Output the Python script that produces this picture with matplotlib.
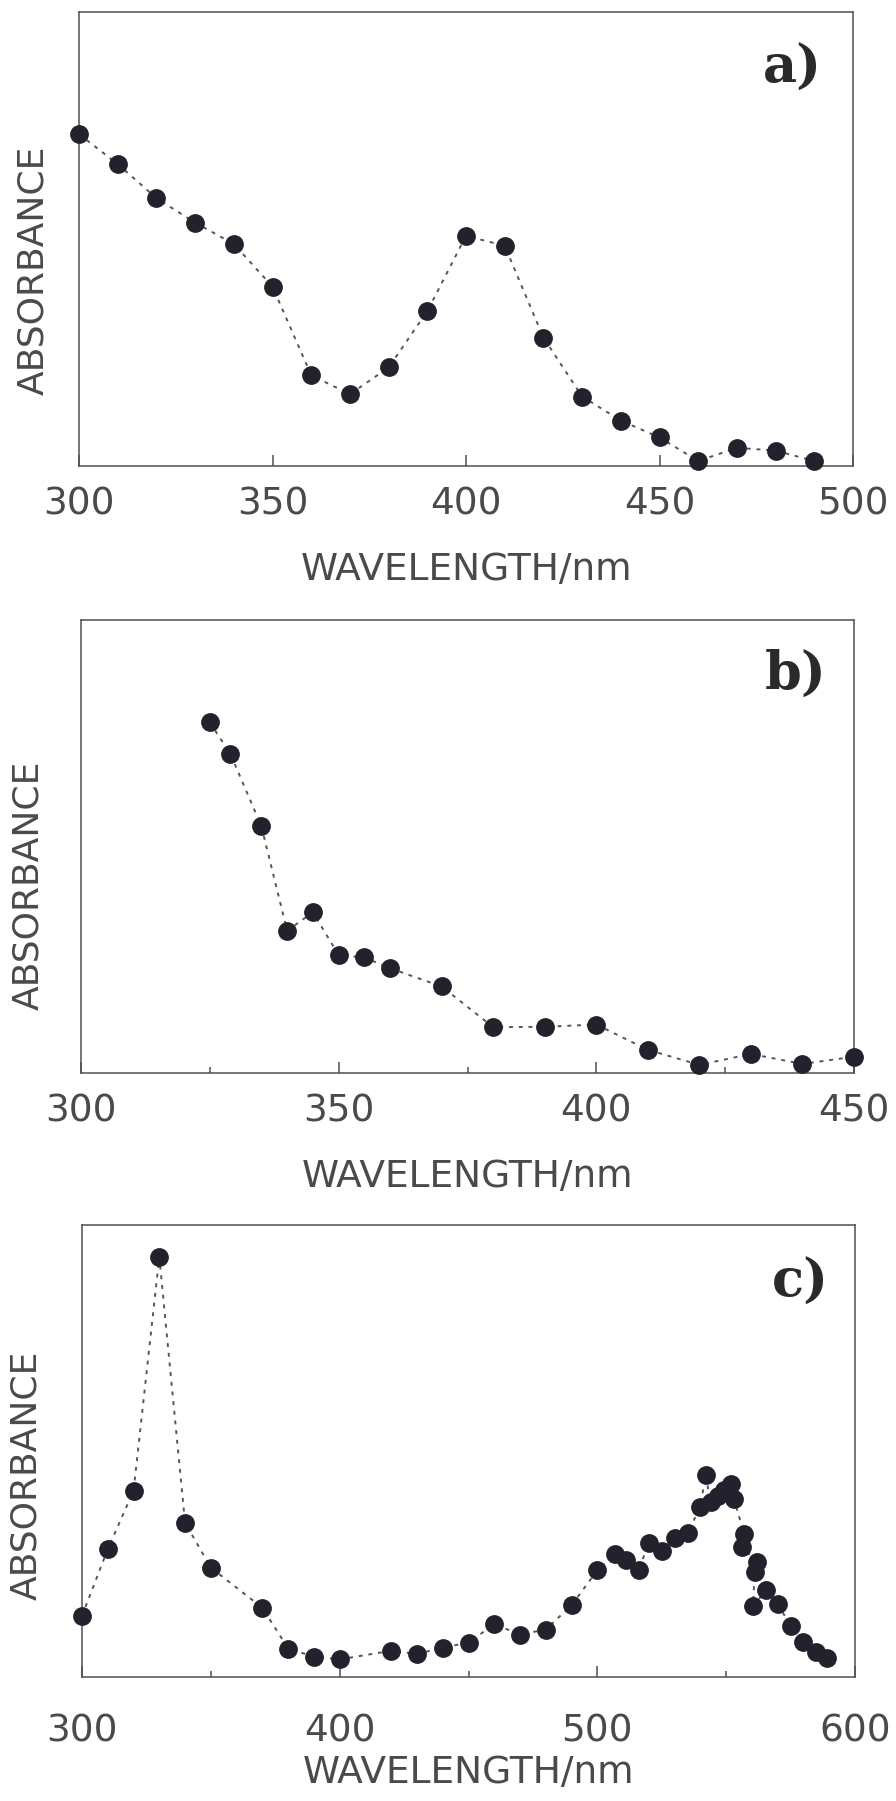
import matplotlib.pyplot as plt
from matplotlib.ticker import MultipleLocator

# panel a
wl_a = [300, 310, 320, 330, 340, 350, 360, 370, 380, 390,
        400, 410, 420, 430, 440, 450, 460, 470, 480, 490]
abs_a = [0.731, 0.665, 0.590, 0.536, 0.489, 0.395, 0.200, 0.158, 0.217, 0.341,
         0.507, 0.485, 0.283, 0.153, 0.100, 0.063, 0.011, 0.040, 0.034, 0.011]

# panel b
wl_b = [325, 329, 335, 340, 345, 350, 355, 360, 370, 380,
        390, 400, 410, 420, 430, 440, 450]
abs_b = [0.774, 0.704, 0.545, 0.314, 0.355, 0.260, 0.255, 0.231, 0.191, 0.101,
         0.102, 0.107, 0.051, 0.018, 0.042, 0.020, 0.036]

# panel c
wl_c = [300, 310, 320, 330, 340, 350, 370, 380, 390, 400,
        420, 430, 440, 450, 460, 470, 480, 490, 500, 507,
        511, 516, 520, 525, 530, 535, 540, 542, 544, 547,
        549, 552, 553, 557, 556, 562, 561, 560.5, 565.5, 570,
        575, 580, 585, 589]
abs_c = [0.135, 0.283, 0.412, 0.929, 0.341, 0.242, 0.153, 0.063, 0.045, 0.039,
         0.058, 0.051, 0.065, 0.076, 0.117, 0.094, 0.105, 0.159, 0.236, 0.272,
         0.259, 0.237, 0.296, 0.279, 0.308, 0.319, 0.376, 0.447, 0.387, 0.400,
         0.414, 0.427, 0.394, 0.316, 0.288, 0.254, 0.233, 0.157, 0.192, 0.162,
         0.113, 0.077, 0.055, 0.042]

W, H = 896, 1801
txt = '#4a4a4a'
spine = '#505050'

fig = plt.figure(figsize=(W / 100, H / 100), dpi=100)


def px_axes(left, top, right, bottom):
    return fig.add_axes([left / W, 1 - bottom / H, (right - left) / W, (bottom - top) / H])


def style(ax, x, y, xlim, major, minor, tag, tagpos, ylab_pos, xlab_y, pad):
    ax.plot(x, y, linestyle=(0, (2, 3)), color='#555555', lw=1.4,
            marker='o', markersize=12.5, markerfacecolor='#23212c',
            markeredgecolor='#23212c', clip_on=False, zorder=3)
    ax.set_xlim(*xlim)
    ax.set_ylim(0, 1)
    ax.set_yticks([])
    ax.xaxis.set_major_locator(MultipleLocator(major))
    if minor:
        ax.xaxis.set_minor_locator(MultipleLocator(minor))
    ax.tick_params(axis='x', which='major', direction='in', length=8, width=1.1,
                   color=spine, labelsize=27, labelcolor=txt, pad=pad)
    ax.tick_params(axis='x', which='minor', direction='in', length=4.5, width=1.1,
                   color=spine)
    for s in ax.spines.values():
        s.set_color(spine)
        s.set_linewidth(1.1)
    ax.set_ylabel('ABSORBANCE', fontsize=26, color=txt)
    ax.yaxis.set_label_coords(*ylab_pos)
    ax.yaxis.label.set_verticalalignment('center')
    ax.set_xlabel('WAVELENGTH/nm', fontsize=27, color=txt)
    ax.xaxis.set_label_coords(0.5, xlab_y)
    ax.xaxis.label.set_verticalalignment('top')
    ax.text(tagpos[0], tagpos[1], tag, transform=ax.transAxes, ha='right',
            va='baseline', fontsize=38, fontweight='bold', family='DejaVu Serif',
            color='#2a2a2a')


ax1 = px_axes(79, 12, 853, 466)
style(ax1, wl_a, abs_a, (300, 500), 50, None, 'a)', (0.96, 0.844),
      (-46 / 774, 0.43), -0.19, 15)

ax2 = px_axes(81, 620, 854, 1073)
style(ax2, wl_b, abs_b, (300, 450), 50, 25, 'b)', (0.964, 0.848),
      (-53 / 773, 0.415), -0.19, 15)

ax3 = px_axes(82, 1225, 855, 1677)
style(ax3, wl_c, abs_c, (300, 600), 100, 50, 'c)', (0.966, 0.841),
      (-56 / 773, 0.447), -0.172, 26)

fig.savefig('out.png', dpi=100, facecolor='white')
